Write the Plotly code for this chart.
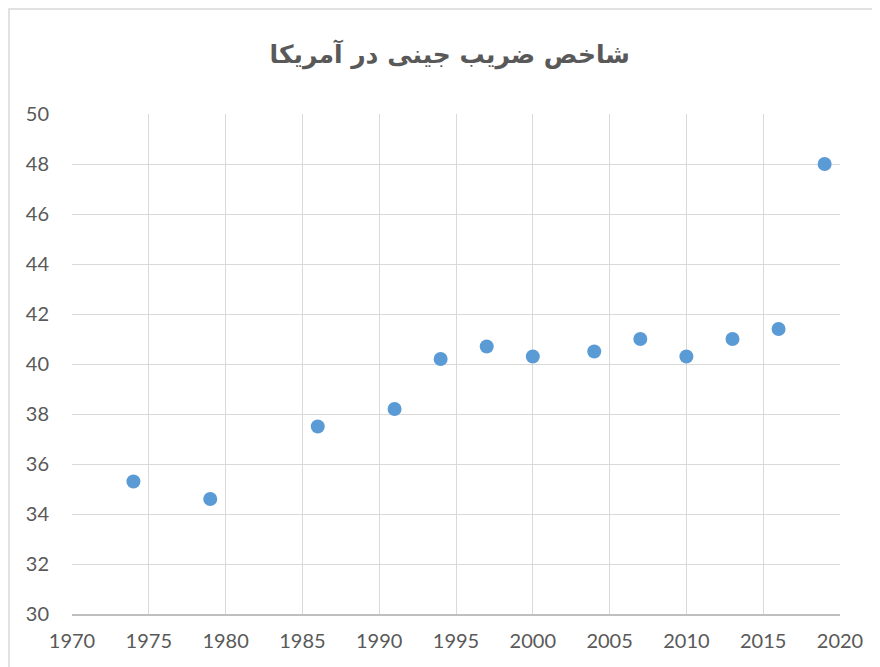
import plotly.graph_objects as go

years = [1974, 1979, 1986, 1991, 1994, 1997, 2000, 2004, 2007, 2010, 2013, 2016, 2019]
gini = [35.3, 34.6, 37.5, 38.2, 40.2, 40.7, 40.3, 40.5, 41.0, 40.3, 41.0, 41.4, 48.0]
title_text = "شاخص ضریب جینی در آمریکا"

fig = go.Figure()
fig.add_trace(go.Scatter(
    x=years, y=gini, mode="markers",
    marker=dict(color="#5B9BD5", size=14, line=dict(width=0)),
    showlegend=False,
))

L, R, T, B = 64, 48, 106, 61
pw, ph = 880 - L - R, 667 - T - B

fig.update_layout(
    width=880, height=667,
    margin=dict(l=L, r=R, t=T, b=B),
    paper_bgcolor="white", plot_bgcolor="white",
    title=dict(text=title_text, x=0.502, xanchor="center", y=0.93, yanchor="middle",
               font=dict(family="DejaVu Sans", size=25, color="#595959", weight="bold")),
    font=dict(family="Lato", color="#595959", size=20),
    xaxis=dict(range=[1970, 2020], dtick=5, tick0=1970, showgrid=True, gridcolor="#D9D9D9",
               gridwidth=1, showline=True, linecolor="#BFBFBF", linewidth=1.5,
               zeroline=False, ticks="", ticklabelstandoff=8,
               tickfont=dict(size=20, color="#595959")),
    yaxis=dict(range=[30, 50], dtick=2, tick0=30, showgrid=True, gridcolor="#D9D9D9",
               gridwidth=1, showline=False, zeroline=False, ticks="",
               ticklabelstandoff=22, tickfont=dict(size=20, color="#595959")),
    shapes=[dict(type="rect", xref="paper", yref="paper",
                 x0=-(L - 1) / pw, x1=1 + (R + 20) / pw,
                 y0=-(B + 20) / ph, y1=1 + (T - 1) / ph,
                 line=dict(color="#D9D9D9", width=1.5), layer="below")],
)

fig.write_html("out.html")
